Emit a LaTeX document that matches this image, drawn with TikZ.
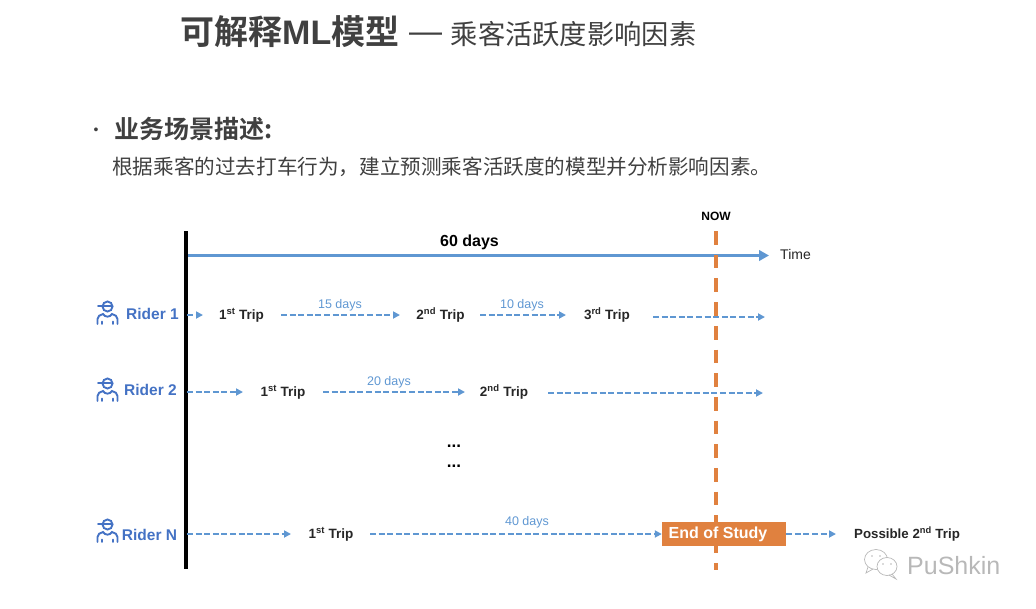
\documentclass[tikz,border=0pt]{standalone}
\usepackage{fontspec}
\setmainfont{Liberation Sans}
\newfontfamily\cjk{Noto Sans CJK SC}
\newfontfamily\cjkb{Noto Sans CJK SC Bold}
\usetikzlibrary{arrows.meta}
\definecolor{flowblue}{HTML}{5F97D2}
\definecolor{riderblue}{HTML}{4472C4}
\definecolor{endorange}{HTML}{E0813F}
\definecolor{titlegray}{HTML}{404040}
\definecolor{markgray}{HTML}{B8B8B8}
\newcommand{\fs}[1]{\fontsize{#1}{#1}\selectfont}
\newcommand{\up}[1]{\textsuperscript{#1}}
\newcommand{\ridericon}[1]{%
  \begin{scope}[shift={(#1)},draw=riderblue,line width=1.9pt,line cap=round]
    \draw (0.5,-8.5) circle (5);
    \draw (-9,-9) -- (5.5,-9);
    \draw (-9.5,9) -- (-9.5,4) .. controls (-9.5,1) and (-7,0) .. (-4,-1)
       .. controls (-2,2.5) and (3,2.5) .. (5,-1)
       .. controls (8,0) and (10.5,1) .. (10.5,4) -- (10.5,9);
    \draw (-5,6.5) -- (-5,9) (6,6.5) -- (6,9);
  \end{scope}}
\tikzset{
  flow/.style={draw=flowblue,line width=1.8pt,dash pattern=on 6pt off 2.6pt,-{Triangle[length=7pt,width=7pt]}},
  trip/.style={font=\fs{13.5}\bfseries,text=black!85,inner sep=0pt,text height=10pt,text depth=3pt},
  gaplabel/.style={font=\fs{12.5},text=flowblue,inner sep=0pt},
  rider/.style={font=\fs{15.5}\bfseries,text=riderblue,inner sep=0pt},
  spine/.style={draw=black,line width=3.2pt},
  nowline/.style={draw=endorange,line width=3.4pt,dash pattern=on 13.7pt off 10pt},
  timearrow/.style={draw=flowblue,line width=3pt,-{Triangle[length=10pt,width=10.5pt]}},
  endbox/.style={fill=endorange,text=white,font=\fs{16}\bfseries,minimum width=124pt,minimum height=24pt,inner sep=0pt,text height=11.5pt,text depth=3.5pt}
}
\begin{document}
\begin{tikzpicture}[x=1pt,y=-1pt]
\useasboundingbox (0,0) rectangle (1036,608);
\node[inner sep=0pt,anchor=west,text=titlegray] (title) at (180,32) {{\fs{34}\cjkb 可解释}{\fs{34}\bfseries ML}{\fs{34}\cjkb 模型}};
\node[inner sep=0pt,anchor=west,text=titlegray] (dash) at (409,38) {\fs{33}—};
\node[inner sep=0pt,anchor=west,text=titlegray] (subtitle) at (450.5,34) {\fs{27.3}\cjk 乘客活跃度影响因素};
\node[inner sep=0pt,text=titlegray,font=\fs{14}] (bullet) at (96,131) {\textbullet};
\node[inner sep=0pt,anchor=west,text=titlegray] (scene) at (114,129) {\fs{25}\cjkb 业务场景描述:};
\node[inner sep=0pt,anchor=west,text=titlegray] (desc) at (112,167) {\fs{20.6}\cjk 根据乘客的过去打车行为，建立预测乘客活跃度的模型并分析影响因素。};
% axes
\coordinate (topL) at (186,231); \coordinate (botL) at (186,569);
\coordinate (nowTop) at (716,231); \coordinate (nowBot) at (716,570);
\coordinate (t0) at (186,255.5); \coordinate (t1) at (769,255.5);
\draw[timearrow] (t0) -- (t1);
\draw[nowline] (nowTop) -- (nowBot);
\draw[spine] (topL) -- (botL);
\node[font=\fs{12}\bfseries,inner sep=0pt] (now) at (716,216) {NOW};
\node[font=\fs{16}\bfseries,inner sep=0pt] (sixty) at (469.5,242) {60 days};
\node[font=\fs{14},inner sep=0pt,text=black!85] (time) at (795.5,254.5) {Time};
% Rider 1
\ridericon{107,315}
\node[rider] (r1) at (152.5,314) {Rider 1};
\coordinate (a0) at (187,315);
\node[trip] (r1a) at (241.5,316) {1\up{st} Trip};
\node[trip] (r1b) at (440.5,316) {2\up{nd} Trip};
\node[trip] (r1c) at (607,316) {3\up{rd} Trip};
\coordinate (a1) at (281,315); \coordinate (a2) at (400,315);
\coordinate (a3) at (480,315); \coordinate (a4) at (566,315);
\coordinate (a5) at (653,317); \coordinate (a6) at (765,317);
\coordinate (a7) at (203,315);
\draw[flow] (a0) -- (a7);
\draw[flow] (a1) -- (a2);
\draw[flow] (a3) -- (a4);
\draw[flow] (a5) -- (a6);
\node[gaplabel] (d15) at (340,305) {15 days};
\node[gaplabel] (d10) at (522,305) {10 days};
% Rider 2
\ridericon{107,392}
\node[rider] (r2) at (150.5,390) {Rider 2};
\node[trip] (r2a) at (283,393) {1\up{st} Trip};
\node[trip] (r2b) at (504,393) {2\up{nd} Trip};
\coordinate (b0) at (187,392); \coordinate (b1) at (243,392);
\coordinate (b2) at (323,392); \coordinate (b3) at (465,392);
\coordinate (b4) at (548,393); \coordinate (b5) at (763,393);
\draw[flow] (b0) -- (b1);
\draw[flow] (b2) -- (b3);
\draw[flow] (b4) -- (b5);
\node[gaplabel] (d20) at (389,382) {20 days};
% dots
\node[font=\fs{17}\bfseries,inner sep=0pt] (dots1) at (454,446) {...};
\node[font=\fs{17}\bfseries,inner sep=0pt] (dots2) at (454,466) {...};
% Rider N
\ridericon{107,533}
\node[rider] (rn) at (149.5,535) {Rider N};
\node[trip] (rna) at (331,535) {1\up{st} Trip};
\node[endbox] (end) at (724,534) {\hspace{-12pt}End of Study};
\node[trip,font=\fs{13.3}\bfseries] (poss) at (907,535) {Possible 2\up{nd} Trip};
\coordinate (c0) at (187,534); \coordinate (c1) at (291,534);
\coordinate (c2) at (370,534); \coordinate (c4) at (836,534);
\draw[flow] (c0) -- (c1);
\draw[flow] (c2) -- (end.west);
\draw[flow] (end.east) -- (c4);
\node[gaplabel] (d40) at (527,522) {40 days};
% watermark
\begin{scope}[draw=markgray,line width=0.7pt]
  \draw (876,559.5) ellipse (11.5 and 10);
  \draw (868,567) -- (866,573) -- (873,569);
  \draw[fill=white] (887,566.5) ellipse (10 and 9);
  \draw (892,574) -- (896,579) -- (889,575);
  \fill[markgray] (872,556) circle (0.9) (880,556) circle (0.9) (883,564) circle (0.9) (891,564) circle (0.9);
\end{scope}
\node[font=\fs{25},text=markgray,inner sep=0pt,anchor=west] (mark) at (907,566) {PuShkin};
\end{tikzpicture}
\end{document}
